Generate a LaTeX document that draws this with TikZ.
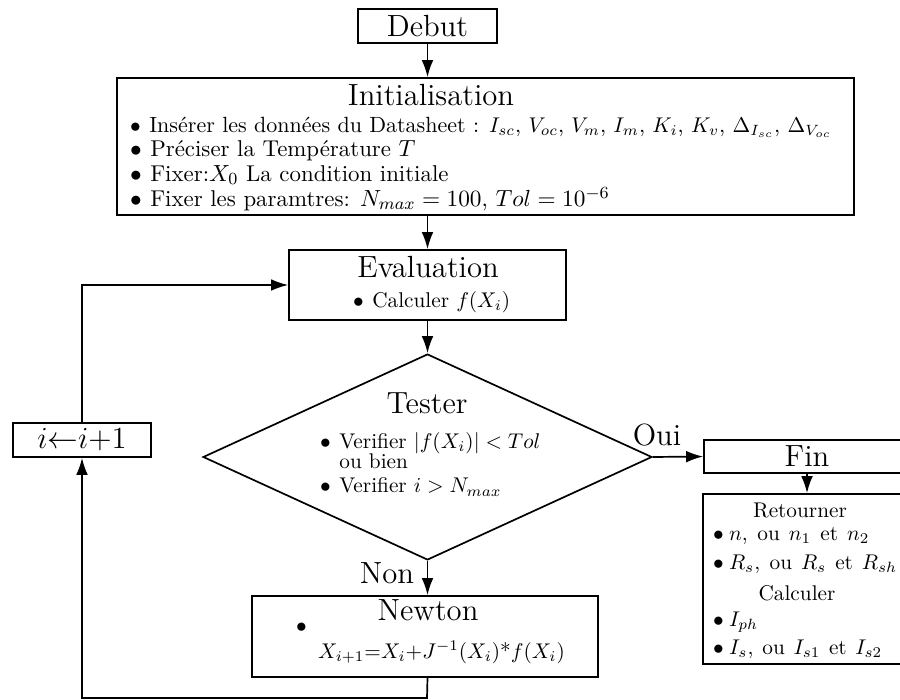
\documentclass[tikz,border=0pt]{standalone}
\usetikzlibrary{shapes.geometric,arrows.meta}
\newcommand{\flowbullet}{$\bullet$\hspace{4pt}}
\newcommand{\retbullet}{$\bullet$\hspace{2.5pt}}
\begin{document}
\begin{tikzpicture}[x=0.47pt,y=-0.47pt,
  box/.style={draw,thick,rectangle,inner sep=0pt},
  arr/.style={thick,-{Latex[length=8pt,width=5.5pt]}},
  ln/.style={thick},
  txt/.style={inner sep=0pt,anchor=west,font=\normalsize},
  inittxt/.style={inner sep=0pt,anchor=west,font=\fontsize{10.75}{13}\selectfont},
  ttl/.style={inner sep=0pt,font=\Large}]
\useasboundingbox (0,0) rectangle (900,700);

% Debut
\node[box,minimum width=65.33pt,minimum height=15.98pt,font=\Large] (debut) at (427.5,26) {Debut};

% Initialisation
\node[box,minimum width=346.39pt,minimum height=64.39pt] (init) at (485.5,146.5) {};
\node[ttl] (initT) at (431,95) {Initialisation};
\node[inittxt,font=\fontsize{10.35}{13}\selectfont] (i1) at (129.7,127) {\flowbullet Insérer les données du Datasheet : $I_{sc}$, $V_{oc}$, $V_m$, $I_m$, $K_i$, $K_v$, $\Delta_{I_{sc}}$, $\Delta_{V_{oc}}$};
\node[inittxt] (i2) at (129.7,151) {\flowbullet Préciser la Température $T$};
\node[inittxt] (i3) at (129.7,175) {\flowbullet Fixer:$X_0$ La condition initiale};
\node[inittxt] (i4) at (129.7,199) {\flowbullet Fixer les paramtres: $N_{max}=100$, $Tol=10^{-6}$};

% Evaluation
\node[box,minimum width=130.19pt,minimum height=32.9pt] (eval) at (427.5,285) {};
\node[ttl] (evalT) at (428,267) {Evaluation};
\node[txt] (e1) at (352.7,302) {\flowbullet Calculer $f(X_i)$};

% Tester
\node[draw,thick,diamond,minimum width=211pt,minimum height=96.8pt,inner sep=0pt] (test) at (427.5,457) {};
\node[ttl] (testT) at (427,403) {Tester};
\node[txt] (t1) at (319.7,443) {\flowbullet Verifier $|f(X_i)|<Tol$};
\node[txt] (t2) at (339,461) {ou bien};
\node[txt] (t3) at (319.7,487) {\flowbullet Verifier $i>N_{max}$};

% Fin
\node[box,minimum width=96.82pt,minimum height=15.51pt,font=\Large] (fin) at (807,456.5) {Fin};
\node[ttl] (oui) at (657,435) {Oui};
\node[box,minimum width=97.76pt,minimum height=79.9pt] (ret) at (807,579) {};
\node[inner sep=0pt] (r0) at (800,510) {Retourner};
\node[txt] (r1) at (712.7,536) {\retbullet\makebox[66pt][s]{$n$, ou $n_1$ et $n_2$}};
\node[txt] (r2) at (712.7,564) {\retbullet\makebox[79pt][s]{$R_s$, ou $R_s$ et $R_{sh}$}};
\node[inner sep=0pt] (r3) at (797,593) {Calculer};
\node[txt] (r4) at (712.7,622) {\retbullet$I_{ph}$};
\node[txt] (r5) at (712.7,649) {\retbullet\makebox[72pt][s]{$I_s$, ou $I_{s1}$ et $I_{s2}$}};

% Newton
\node[box,minimum width=162.62pt,minimum height=38.07pt] (newton) at (425,636.5) {};
\node[ttl] (newtonT) at (428,610) {Newton};
\node[txt] (nb) at (295.7,628) {$\bullet$};
\node[inner sep=0pt] (nf) at (441.5,652) {$X_{i+1}{=}X_i{+}J^{-1}(X_i)\mbox{*}f(X_i)$};
\node[ttl] (non) at (387,573) {Non};

% increment
\node[box,minimum width=64.86pt,minimum height=15.98pt,font=\Large] (inc) at (82,440) {$i{\leftarrow}i{+}1$};

\coordinate (lb) at (427,698);

% connectors
\draw[arr] (debut.south) -- (debut.south |- init.north);
\draw[arr] (eval.north |- init.south) -- (eval.north);
\draw[arr] (eval.south) -- (test.north);
\draw[arr] (test.east) -- (fin.west);
\draw[arr] (fin.south) -- (ret.north);
\draw[arr] (test.south) -- (test.south |- newton.north);
\draw[arr] (test.south |- newton.south) -- (lb) -| (inc.south);
\draw[arr] (inc.north) |- (eval.west);
\end{tikzpicture}
\end{document}
